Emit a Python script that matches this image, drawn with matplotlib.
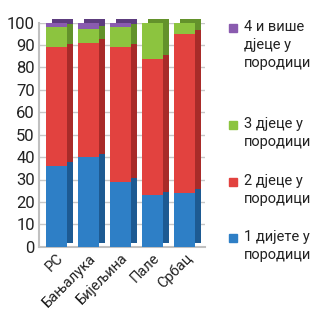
import matplotlib
matplotlib.use("Agg")
import matplotlib.pyplot as plt
import numpy as np
from matplotlib.patches import Rectangle

plt.rcParams['font.family'] = ['Roboto', 'DejaVu Sans']

categories = ['РС', 'Бањалука', 'Бијељина', 'Пале', 'Србац']
one_child = [36, 40, 29, 23, 24]
two_children = [53, 51, 60, 61, 71]
three_children = [9, 6, 9, 16, 5]
four_plus = [2, 3, 2, 0, 0]
series = [one_child, two_children, three_children, four_plus]
labels = ['1 дијете у\nпородици', '2 дјеце у\nпородици', '3 дјеце у\nпородици', '4 и више\nдјеце у\nпородици']
colors = ['#2E7FC6', '#E2423F', '#8CC43F', '#8A5BAF']
side_colors = ['#1D5A92', '#A82B29', '#63922B', '#5D3C7E']
yticks = list(range(0, 101, 10))

W, H = 313, 311
fig = plt.figure(figsize=(W/100, H/100), dpi=100)
ax = fig.add_axes([39/W, 1-246.7/H, (205-39)/W, (246.7-22.7)/H])

x = np.arange(len(categories))
width = 0.65
dx, dy = 0.19, 1.6

# side/top faces (depth effect)
bottom = np.zeros(len(categories))
for vals, c in zip(series, side_colors):
    bars = ax.bar(x + dx, vals, width, bottom=bottom + dy, color=c, zorder=2, linewidth=0)
    for b in bars:
        b.set_clip_on(False)
    bottom += np.array(vals)
# front faces
bottom = np.zeros(len(categories))
for vals, c in zip(series, colors):
    ax.bar(x, vals, width, bottom=bottom, color=c, zorder=3, linewidth=0)
    bottom += np.array(vals)

ax.set_xlim(-0.55, 4.64)
ax.set_ylim(0, 100)
ax.set_yticks(yticks)
ax.set_yticklabels([str(t) for t in yticks], fontsize=12, color='#222222')
ax.set_xticks(x)
ax.set_xticklabels(categories, rotation=45, ha='right', rotation_mode='anchor',
                   fontsize=10.5, color='#222222')
ax.tick_params(axis='both', length=0, pad=3)
ax.yaxis.grid(True, color='#c8c8c8', linewidth=1, zorder=0)
ax.set_axisbelow(True)
for s in ['top', 'right']:
    ax.spines[s].set_visible(False)
ax.spines['left'].set_color('#c0c0c0')
ax.spines['left'].set_linewidth(1.5)
ax.spines['bottom'].set_color('#c0c0c0')
ax.spines['bottom'].set_linewidth(1.5)

# legend (manual, top to bottom)
entry_tops = [20, 117, 174, 230]
for lab, c, top in zip(labels[::-1], colors[::-1], entry_tops):
    fig.patches.append(Rectangle((229/W, 1-(top+12)/H), 8/W, 8/H,
                                 transform=fig.transFigure, color=c, figure=fig))
    fig.text(244/W, 1-top/H, lab, fontsize=10.5, va='top', ha='left',
             color='#222222', linespacing=1.35)

fig.savefig('out.png', dpi=100)
